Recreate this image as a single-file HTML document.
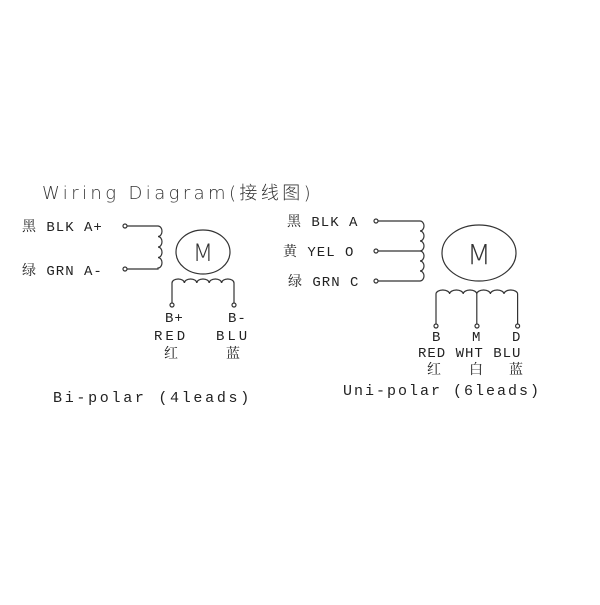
<!DOCTYPE html>
<html><head><meta charset="utf-8"><style>
body{margin:0;background:#fff;width:600px;height:600px;overflow:hidden}
svg text.m{font-family:"Liberation Mono","Liberation Serif","Noto Serif CJK SC",serif;fill:#222}
</style></head><body>
<svg width="600" height="600" viewBox="0 0 600 600" xmlns="http://www.w3.org/2000/svg">
<g fill="none" stroke="#333" stroke-width="1.2">
<circle cx="125" cy="226" r="2"/><circle cx="125" cy="269" r="2"/>
<path d="M127 226 H158 a4 5.25 0 0 1 0 10.5 a4 5.25 0 0 1 0 10.5 a4 5.25 0 0 1 0 10.5 a4 5.25 0 0 1 0 10.5 V269 H127"/>
<ellipse cx="203" cy="252" rx="27" ry="22"/>
<path d="M172 303 V283 a6.2 4 0 0 1 12.4 0 a6.2 4 0 0 1 12.4 0 a6.2 4 0 0 1 12.4 0 a6.2 4 0 0 1 12.4 0 a6.2 4 0 0 1 12.4 0 V303"/>
<circle cx="172" cy="305" r="2"/><circle cx="234" cy="305" r="2"/>
<circle cx="376" cy="221" r="2"/><circle cx="376" cy="251" r="2"/><circle cx="376" cy="281" r="2"/>
<path d="M378 221 H420 a4 5 0 0 1 0 10 a4 5 0 0 1 0 10 a4 5 0 0 1 0 10 a4 5 0 0 1 0 10 a4 5 0 0 1 0 10 a4 5 0 0 1 0 10 V281 H378"/>
<path d="M378 251 H420"/>
<ellipse cx="479" cy="253" rx="37" ry="28"/>
<path d="M436 324 V294 a6.8 4 0 0 1 13.6 0 a6.8 4 0 0 1 13.6 0 a6.8 4 0 0 1 13.6 0 a6.8 4 0 0 1 13.6 0 a6.8 4 0 0 1 13.6 0 a6.8 4 0 0 1 13.6 0 V324"/>
<path d="M476.8 294 V324"/>
<circle cx="436" cy="326" r="2"/><circle cx="477" cy="326" r="2"/><circle cx="517.6" cy="326" r="2"/>
</g>
<text x="42" y="199" font-family="DejaVu Sans, Noto Sans CJK SC, sans-serif" font-weight="200" font-size="18" letter-spacing="3.4" fill="#333">Wiring  Diagram(接线图)</text>
<text x="203" y="261" text-anchor="middle" font-family="DejaVu Sans, sans-serif" font-weight="200" font-size="24" fill="#333">M</text>
<text x="479" y="264" text-anchor="middle" font-family="DejaVu Sans, sans-serif" font-weight="200" font-size="28" fill="#333">M</text>
<g font-size="14" letter-spacing="1" class="m">
<text class="m" x="22" y="231">黑 BLK A+</text>
<text class="m" x="22" y="275">绿 GRN A-</text>
<text class="m" x="165" y="322">B+</text>
<text class="m" x="228" y="322">B-</text>
<text class="m" x="154" y="340" letter-spacing="3">RED</text>
<text class="m" x="216" y="340" letter-spacing="3">BLU</text>
<text class="m" x="164" y="358">红</text>
<text class="m" x="226" y="358">蓝</text>
<text class="m" x="287" y="226">黑 BLK A</text>
<text class="m" x="283" y="256">黄 YEL O</text>
<text class="m" x="288" y="286">绿 GRN C</text>
<text class="m" x="432" y="341">B</text>
<text class="m" x="472" y="341">M</text>
<text class="m" x="512" y="341">D</text>
<text class="m" x="418" y="357">RED WHT BLU</text>
<text class="m" x="427" y="374">红</text>
<text class="m" x="469" y="374">白</text>
<text class="m" x="509" y="374">蓝</text>
</g>
<text class="m" x="53" y="402" font-size="15" letter-spacing="2.7">Bi-polar (4leads)</text>
<text class="m" x="343" y="395" font-size="15" letter-spacing="2">Uni-polar (6leads)</text>
</svg>
</body></html>
